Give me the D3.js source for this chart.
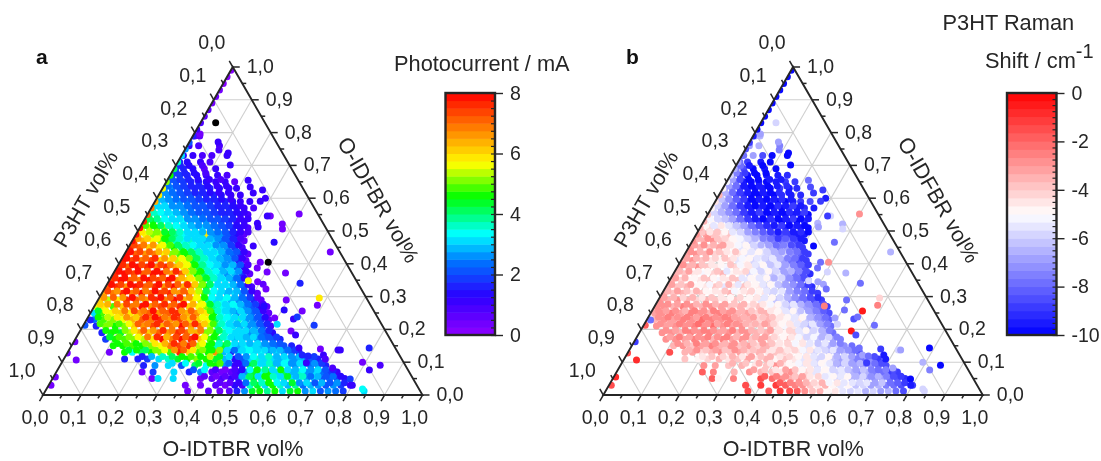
<!DOCTYPE html>
<html><head><meta charset="utf-8">
<script src="https://cdn.jsdelivr.net/npm/d3@7"></script>
<style>html,body{margin:0;padding:0;background:#fff}svg{display:block;font-family:"Liberation Sans",Arial,sans-serif;filter:blur(.4px)}</style>
</head><body><svg id="c" width="1101" height="461"></svg>
<script>
// Sample rows: O-IDFBR level of each row, then per-row O-IDTBR, photocurrent, Raman shift
const idfbrLevels=[.012,.03,.05,.07,.09,.11,.13,.15,.17,.19,.21,.23,.25,.27,.29,.31,.33,.35,.37,.39,.41,.43,.45,.47,.49,.51,.53,.55,.57,.59,.61,.63,.65,.67,.69,.71,.73,.76,.79,
.037,.057,.077,.097,.117,.137,.157,.177,.197,.217,.237,.257,.277,.297,.317,.337,.357,.377,.397,.417,.437,.457,.477,.497,.517,.537,.557,.577,.597,.617,.637,.657,.677,.70];
const idtbrRows=[
[.375,.43,.46,.485,.505,.525,.545,.565,.585,.605,.625,.645,.665,.685,.705,.725,.745,.765,.785,.84],
[.36,.40,.44,.465,.49,.51,.53,.55,.57,.59,.61,.63,.65,.67,.69,.71,.73,.75,.77,.80],
[.262,.278,.318,.39,.42,.445,.47,.49,.51,.53,.55,.57,.59,.61,.63,.65,.67,.69,.71,.73,.75,.77],
[.226,.255,.31,.35,.38,.41,.435,.46,.48,.50,.52,.54,.56,.58,.60,.62,.64,.66,.68,.70,.72,.74],
[.22,.25,.285,.32,.355,.385,.41,.435,.46,.48,.50,.52,.54,.56,.58,.60,.62,.64,.66,.68,.70],
[.16,.195,.22,.25,.275,.30,.325,.35,.375,.40,.425,.45,.47,.49,.51,.53,.55,.57,.59,.61,.63,.65,.67],
[.11,.15,.17,.195,.22,.245,.27,.295,.32,.345,.37,.39,.41,.43,.45,.47,.49,.51,.53,.55,.57,.59,.61],
[.11,.135,.16,.185,.21,.235,.26,.285,.31,.335,.36,.38,.40,.42,.44,.46,.48,.50,.52,.54,.56,.58],
[.08,.105,.13,.155,.18,.205,.23,.255,.28,.305,.33,.355,.38,.40,.42,.44,.46,.48,.50,.52,.54],
[.06,.085,.11,.135,.16,.185,.21,.235,.26,.285,.31,.335,.36,.385,.41,.43,.45,.47,.49,.51],
[.035,.06,.085,.11,.135,.16,.185,.21,.235,.26,.285,.31,.335,.355,.375,.395,.415,.435,.455,.475,.495],
[.02,.045,.07,.095,.12,.145,.17,.195,.22,.245,.27,.295,.32,.34,.36,.38,.40,.42,.44,.46,.48],
[.01,.03,.055,.08,.105,.13,.155,.18,.205,.23,.255,.28,.305,.325,.345,.365,.385,.405,.425,.445,.47],
[.005,.025,.05,.075,.10,.125,.15,.175,.20,.225,.25,.275,.295,.315,.335,.355,.375,.395,.415,.435,.455],
[.005,.025,.05,.075,.10,.125,.15,.175,.20,.225,.25,.27,.29,.31,.33,.35,.37,.39,.41,.43],
[.005,.03,.055,.08,.105,.13,.155,.18,.205,.23,.25,.27,.29,.31,.33,.35,.37,.39,.41],
[.005,.03,.055,.08,.105,.13,.155,.18,.205,.225,.245,.265,.285,.305,.325,.345,.365,.385],
[.005,.03,.055,.08,.105,.13,.155,.18,.205,.225,.245,.265,.285,.305,.325,.345,.365],
[.005,.03,.055,.08,.105,.13,.155,.18,.20,.22,.24,.26,.28,.30,.32,.34,.36],
[.005,.03,.055,.08,.105,.13,.155,.175,.195,.215,.235,.255,.275,.295,.315,.335],
[.005,.03,.055,.08,.105,.13,.15,.17,.19,.21,.23,.25,.27,.29,.31,.33],
[.005,.03,.055,.08,.105,.125,.145,.165,.185,.205,.225,.245,.265,.285,.305,.325],
[.005,.03,.055,.08,.10,.12,.14,.16,.18,.20,.22,.24,.26,.28,.30],
[.005,.03,.055,.075,.095,.115,.135,.155,.175,.195,.215,.235,.255,.275,.295],
[.005,.025,.045,.065,.085,.105,.125,.145,.165,.182,.205,.225,.245,.265,.285],
[.005,.025,.045,.065,.085,.105,.125,.145,.165,.185,.205,.225,.245,.265,.285],
[.005,.025,.045,.065,.085,.105,.125,.145,.165,.185,.205,.225,.245,.265],
[.005,.025,.045,.065,.085,.105,.125,.145,.165,.185,.205,.225,.245,.265],
[.005,.025,.045,.065,.085,.105,.125,.145,.165,.185,.205,.225,.245,.27],
[.005,.025,.045,.065,.085,.105,.125,.145,.165,.185,.205,.225,.25],
[.005,.025,.045,.065,.085,.105,.125,.145,.165,.19,.215],
[.005,.025,.045,.065,.085,.105,.125,.15,.175,.195],
[.005,.025,.045,.065,.085,.105,.13,.155,.18],
[.005,.025,.045,.07,.095,.125,.15],
[.005,.025,.05,.08,.11],
[.005,.025,.06,.085],
[.005,.03,.055,.08,.12],
[.005,.03,.085],
[.005,.018],
[.447,.474,.497,.516,.537,.558,.576,.598,.616,.638,.657,.676,.698,.716,.738,.757,.776],
[.397,.428,.452,.477,.496,.516,.538,.556,.578,.597,.616,.638,.656,.677,.696,.718,.736,.756],
[.358,.387,.416,.442,.467,.486,.507,.526,.547,.566,.588,.606,.627,.646,.668,.686,.706,.726],
[.292,.327,.362,.392,.418,.441,.466,.486,.507,.526,.548,.566,.587,.606,.628,.646,.667,.686],
[.203,.228,.257,.282,.308,.332,.357,.382,.407,.432,.456,.477,.496,.517,.536,.557,.577,.596,.617,.637,.656],
[.157,.178,.202,.228,.252,.278,.302,.327,.352,.377,.397,.417,.436,.457,.476,.497,.516,.537,.556,.577,.596],
[.118,.142,.167,.192,.217,.243,.267,.292,.317,.342,.366,.386,.407,.427,.447,.466,.487,.506,.527,.546],
[.087,.112,.138,.162,.187,.212,.237,.262,.287,.312,.337,.362,.386,.407,.426,.447,.466,.487,.506,.527],
[.067,.092,.118,.142,.167,.192,.218,.242,.267,.292,.317,.342,.366,.392,.416,.436,.456,.477,.497],
[.042,.067,.092,.118,.142,.167,.192,.218,.242,.267,.292,.317,.34,.362,.382,.402,.422,.442,.462,.482],
[.027,.052,.077,.102,.127,.152,.177,.202,.227,.252,.277,.302,.327,.347,.367,.387,.407,.427,.447,.467],
[.017,.037,.062,.087,.112,.137,.162,.187,.212,.237,.262,.287,.312,.332,.352,.372,.392,.412,.432,.452],
[.012,.032,.057,.082,.107,.132,.157,.182,.207,.232,.257,.282,.302,.322,.342,.362,.382,.402,.422,.442],
[.012,.037,.062,.087,.112,.137,.162,.187,.212,.237,.257,.277,.297,.317,.337,.357,.377,.397,.417],
[.012,.037,.062,.087,.112,.137,.162,.187,.212,.232,.252,.272,.292,.312,.332,.352,.372,.392],
[.012,.037,.062,.087,.112,.137,.162,.187,.212,.232,.252,.272,.292,.312,.332,.352,.372],
[.012,.037,.062,.087,.112,.137,.162,.187,.21,.232,.252,.272,.292,.312,.332,.352],
[.012,.037,.062,.087,.112,.137,.162,.187,.207,.227,.247,.267,.287,.307,.327,.347],
[.012,.037,.062,.087,.112,.137,.162,.182,.202,.222,.242,.262,.282,.302,.322,.342],
[.012,.037,.062,.087,.112,.135,.157,.177,.197,.217,.237,.257,.277,.297,.317],
[.012,.037,.062,.087,.107,.13,.152,.172,.192,.212,.232,.252,.272,.292,.312],
[.012,.037,.062,.087,.107,.127,.147,.167,.187,.207,.227,.247,.267,.287],
[.012,.037,.062,.082,.102,.122,.142,.162,.182,.202,.222,.242,.262,.282],
[.012,.032,.052,.072,.092,.112,.132,.152,.172,.192,.212,.232,.252,.272,.292],
[.012,.032,.052,.072,.092,.112,.132,.152,.172,.192,.212,.232,.252,.272],
[.012,.032,.052,.072,.092,.112,.132,.152,.172,.192,.212,.232,.252,.272],
[.012,.032,.052,.072,.092,.112,.132,.152,.172,.192,.212,.232,.252],
[.012,.032,.052,.072,.092,.112,.132,.152,.172,.192,.212,.232],
[.012,.032,.052,.072,.092,.112,.132,.152,.172,.196],
[.012,.032,.052,.072,.092,.112,.132,.155,.18],
[.012,.032,.052,.072,.092,.115,.14,.165],
[.012,.032,.055,.08,.11,.14],
[.012,.035,.06,.09],
[.012,.035,.07]];
const photocurrentRows=[
[.3,.5,.4,.6,1.5,2.5,4.3,4.6,3.9,4.5,3.0,4.4,4.6,2.6,3.0,2.2,2.6,2.3,1.9,3.2],
[.4,.3,.6,.4,1.4,.8,3.7,4.4,3.2,4.7,3.6,2.9,3.9,2.4,2.9,2.5,2.1,2.7,1.8,1.2],
[.3,3.1,3.2,.4,.5,.9,1.0,2.0,3.9,4.5,3.5,4.7,3.3,3.8,3.0,3.3,2.5,3.0,2.2,2.4,1.8,1.3],
[.4,1.8,3.1,1.7,2.5,.7,.4,.6,1.0,2.6,4.3,3.3,4.6,3.0,4.2,2.9,3.5,2.6,3.2,2.3,1.9,1.0],
[1.7,2.6,3.0,2.0,4.2,3.3,4.6,2.6,1.2,1.6,4.4,3.4,3.0,3.9,2.8,3.4,2.5,3.1,2.3,2.7,1.7],
[1.5,1.6,1.9,3.2,3.6,4.4,4.6,5.2,4.7,4.4,2.8,1.3,2.2,3.0,3.6,3.2,3.0,2.8,3.3,2.5,2.8,2.1,1.6],
[.4,4.6,3.4,4.0,4.7,5.0,4.8,7.5,6.2,4.8,4.5,6.7,2.9,1.6,3.0,3.4,3.0,3.3,2.7,3.0,2.6,2.2,1.5],
[4.6,4.7,4.8,4.5,5.2,5.6,6.9,7.3,7.6,5.4,4.6,3.7,4.4,3.3,2.9,3.4,3.1,2.9,2.6,2.4,2.2,1.7],
[1.9,4.6,4.8,5.0,5.3,5.8,7.8,6.8,7.9,7.6,6.0,4.9,4.0,3.3,2.8,3.1,2.9,2.5,2.3,2.0,1.5],
[1.7,4.7,4.4,5.4,6.4,6.2,7.2,6.6,7.7,7.0,6.4,5.0,4.5,3.6,3.2,3.0,2.6,2.9,2.2,1.3],
[1.6,5.0,4.7,5.2,6.1,6.6,7.3,6.4,6.9,7.8,6.6,6.9,5.4,3.8,3.4,3.2,2.8,2.5,2.7,2.1,.8],
[2.4,4.9,5.0,5.6,6.3,7.1,6.9,7.5,6.7,7.4,6.2,6.0,5.5,4.2,3.4,3.1,3.5,2.6,2.3,1.9,.7],
[3.2,4.8,5.6,6.0,5.9,6.6,7.2,6.5,7.0,7.6,6.3,6.7,5.8,4.6,3.3,3.0,2.7,3.0,2.4,2.0,.6],
[5.6,5.8,4.8,6.2,6.9,7.8,6.6,7.4,6.8,7.5,6.1,5.7,5.0,3.9,3.4,3.1,3.3,2.6,2.2,1.4,.5],
[6.2,5.4,5.9,7.7,7.2,6.6,7.6,6.9,7.9,6.4,5.8,5.4,3.9,3.0,3.4,2.9,2.7,2.3,1.6,.5],
[6.4,6.9,7.5,6.8,7.9,7.0,7.3,7.7,6.5,7.2,5.9,4.8,3.6,3.2,2.9,3.1,2.5,1.9,.6],
[7.0,7.6,6.6,7.9,7.1,7.5,6.7,7.8,6.4,6.9,5.2,4.6,3.4,3.0,3.3,2.6,2.0,.9],
[7.4,7.9,7.2,6.8,7.8,7.4,7.9,6.7,6.0,5.5,4.9,3.8,3.1,3.3,2.7,2.1,.8],
[7.6,7.9,7.4,7.0,7.8,7.9,6.6,7.1,5.4,4.7,4.1,3.5,3.0,2.7,2.9,1.8,.6],
[7.7,7.2,7.9,7.5,6.9,7.7,6.3,5.7,5.0,4.1,3.6,3.2,2.9,3.1,2.3,1.3],
[7.8,7.4,6.8,7.3,6.1,5.9,5.3,5.7,4.4,3.7,3.3,3.0,2.8,2.5,1.7,.5],
[7.9,7.1,6.6,6.9,5.6,5.2,4.9,4.5,4.0,3.5,3.1,3.3,2.7,2.4,1.5,.6],
[7.6,7.0,6.2,5.8,5.1,4.6,4.2,3.6,3.2,3.0,3.3,2.8,2.5,1.9,.8],
[7.2,6.4,5.6,5.0,4.3,3.7,3.3,3.6,3.0,2.8,3.1,2.4,2.1,1.5,.6],
[6.3,5.7,5.2,5.4,4.5,3.9,3.4,3.2,3.0,5.9,2.7,2.6,2.2,1.3,.7],
[5.5,5.3,4.7,5.0,3.8,3.4,3.0,2.8,3.1,2.6,2.4,2.1,1.6,1.3,.9],
[4.7,4.3,3.7,3.3,3.0,3.3,2.7,2.5,2.6,2.2,1.9,1.7,1.2,1.0],
[3.8,3.5,3.1,3.3,2.8,2.6,2.3,2.4,2.0,1.9,1.7,1.6,1.3,.9],
[3.3,3.0,3.2,2.7,2.5,2.4,2.1,2.0,1.8,1.7,1.5,1.3,1.2,.9],
[3.1,2.9,2.7,2.5,2.3,2.1,2.0,1.8,1.7,1.5,1.4,1.2,1.1],
[2.9,2.6,2.4,2.2,2.0,1.8,1.7,1.6,1.4,1.2,1.0],
[2.6,2.5,2.1,1.9,1.7,1.6,1.5,1.3,1.0,1.2],
[2.4,2.1,1.8,1.6,1.5,1.3,1.1,1.0,.7],
[2.2,1.8,1.6,1.4,1.2,1.0,.9],
[2.0,1.5,1.4,.6,1.0],
[1.7,1.4,1.1,.9],
[1.4,1.0,.9,.8,1.1],
[1.1,.8,.9],
[.6,.5],
[.5,.7,1.2,2.4,4.1,3.6,4.6,3.3,3.0,4.4,2.6,3.2,2.2,2.9,2.0,2.5,1.5],
[.5,.4,.7,.9,2.8,4.1,3.0,4.6,3.7,3.1,4.3,2.8,3.5,2.4,2.8,2.0,2.3,1.4],
[2.2,3.4,.8,.4,.8,1.3,3.4,4.6,3.8,3.2,4.6,3.1,2.8,3.3,2.5,3.0,2.1,1.5],
[3.1,3.3,4.4,4.6,4.8,2.4,1.0,2.3,4.0,3.1,3.6,2.9,3.3,2.7,3.0,2.4,2.6,1.9],
[1.7,2.9,3.5,4.2,4.6,4.9,4.7,5.4,4.3,3.0,2.1,2.7,3.3,3.1,3.5,2.9,3.1,2.6,2.9,2.3,1.9],
[4.4,4.6,4.2,5.2,5.6,6.6,7.2,5.8,5.1,4.6,5.0,3.2,2.4,3.2,3.4,3.1,3.2,2.8,2.9,2.4,1.8],
[4.7,4.9,4.6,5.0,5.8,6.4,7.7,6.9,7.2,5.6,4.7,3.5,4.1,3.0,3.2,2.9,3.0,2.7,2.3,2.0],
[4.4,4.8,5.2,5.6,6.8,7.5,6.4,7.3,7.0,7.8,5.6,4.7,3.7,3.1,3.0,2.8,3.0,2.4,2.2,1.8],
[4.5,4.6,5.0,5.8,7.0,6.5,7.7,6.9,7.4,6.3,6.8,5.2,4.2,3.4,3.0,3.2,2.8,2.4,1.6],
[4.8,5.2,4.9,5.7,7.0,6.8,7.7,7.1,6.5,7.2,7.5,6.2,4.8,3.6,3.1,2.9,3.2,2.6,2.2,1.6],
[4.6,5.3,5.8,6.6,6.1,7.5,7.8,6.9,7.6,6.6,7.0,5.7,4.7,3.7,3.3,3.0,3.2,2.5,2.2,1.4],
[4.4,5.5,6.1,6.8,7.4,6.9,7.8,7.0,7.5,6.6,7.0,6.0,4.9,3.7,3.1,2.9,3.1,2.5,2.2,1.1],
[6.0,6.3,6.9,7.4,6.8,7.9,7.2,7.6,7.1,7.8,6.3,5.5,4.4,3.5,3.1,3.3,2.8,2.4,1.8,.8],
[6.6,7.2,6.7,7.8,6.9,7.5,7.9,7.1,7.6,6.6,5.5,4.5,3.4,3.1,3.3,2.8,2.4,1.8,.7],
[7.3,6.7,7.8,7.2,6.9,7.8,7.4,6.6,7.0,6.2,5.4,4.2,3.4,3.0,2.8,2.9,2.2,1.2],
[7.8,7.3,7.9,7.5,7.0,7.9,7.3,7.0,7.6,6.2,5.0,4.2,3.2,3.1,2.9,2.3,1.2],
[7.6,7.9,7.0,7.8,7.4,7.0,7.8,6.4,5.9,5.0,4.4,3.6,3.0,2.8,2.4,1.3],
[7.9,7.5,7.8,7.2,7.9,6.8,7.5,6.2,5.2,4.6,3.7,3.3,2.9,3.1,2.6,1.2],
[7.5,7.9,7.4,7.8,7.3,6.9,6.0,5.6,4.7,3.8,3.3,3.1,2.7,2.9,2.1,.9],
[7.9,7.6,7.2,7.7,6.6,6.2,5.6,5.0,4.2,3.5,3.2,2.9,2.6,2.2,1.2],
[7.9,7.3,7.0,6.4,6.0,5.2,4.7,4.2,3.7,3.2,3.0,2.9,2.4,2.0,1.0],
[7.4,6.8,6.5,5.5,4.8,4.2,3.7,3.4,3.0,3.2,2.7,2.5,1.9,1.0],
[6.7,6.0,5.5,4.7,4.0,3.5,3.2,3.0,3.1,2.8,2.5,2.2,1.7,.9],
[5.8,5.4,5.0,4.4,4.1,3.6,3.1,3.0,2.8,2.7,2.4,2.0,1.7,1.2,.8],
[4.9,4.6,4.2,3.6,3.3,3.0,2.9,2.7,2.5,2.4,2.0,1.8,1.3,1.0],
[4.1,3.9,3.4,3.1,3.0,2.7,2.6,2.3,2.2,2.0,1.8,1.5,1.2,1.1],
[3.6,3.3,3.0,2.8,2.6,2.3,2.2,2.1,1.9,1.7,1.5,1.3,1.0],
[3.2,3.0,2.7,2.5,2.3,2.1,2.0,1.8,1.7,1.5,1.3,1.0],
[2.9,2.7,2.4,2.2,2.0,1.9,1.7,1.5,1.3,1.0],
[2.7,2.3,2.1,1.9,1.7,1.6,1.4,1.2,1.1],
[2.4,2.2,1.9,1.6,1.5,1.3,1.0,1.0],
[2.1,1.8,1.6,1.4,1.1,.9],
[1.9,1.6,1.4,.9],
[1.5,1.3,.9]];
const ramanRows=[
[-1.5,-2,-1.2,-1.5,-2,-3,-4,-3.5,-5,-4.5,-5.5,-6,-5.5,-6.5,-6,-7,-6.5,-8,-8.5,-6],
[-1.5,-1.2,-1.3,-2,-2.5,-3,-3.8,-4.5,-3.5,-5,-5.5,-4.8,-6.2,-6,-7,-6.6,-7.4,-8,-8.6,-9],
[-2,-5,-2.5,-1.5,-2.2,-2.8,-3.5,-3,-4,-5,-4.4,-5.2,-5.8,-5,-6.4,-6,-6.8,-7.2,-7,-7.8,-8.6,-9.2],
[-2,-2.5,-3.5,-2.8,-3.5,-4,-4.5,-3,-5,-4.2,-5.6,-4.8,-5.2,-6,-5.6,-6.6,-7.2,-6.5,-7.5,-7.9,-8.8,-9],
[-3,-3.3,-4,-3.5,-4.6,-3.8,-3,-4.4,-5,-5.4,-4.6,-5.8,-5.2,-6.2,-6.8,-5.8,-7,-7.6,-7.2,-8.2,-8.6],
[-4,-4.8,-4.2,-3.5,-4.5,-3.8,-3.2,-4.4,-3.6,-4.8,-4,-4.4,-5.4,-4.6,-5.8,-5,-6.2,-6.8,-6,-7.4,-8,-7.2,-8.8],
[-1.5,-3.6,-3.2,-4.2,-3.6,-3,-3.8,-3.3,-4.2,-3.5,-4.6,-3.9,-4.2,-5,-4.4,-5.4,-5.8,-5,-6.3,-7,-6.4,-7.6,-8.4],
[-3.4,-3,-3.8,-3.2,-2.6,-3.4,-3,-3.7,-3.2,-4.2,-3.6,-4.4,-5,-4.2,-4.8,-5.6,-5,-6,-6.6,-6,-7.2,-8],
[-3,-2.8,-3.3,-2.6,-2.9,-3.4,-2.4,-3.2,-2.8,-3.8,-3.3,-3.9,-4.6,-4,-5,-4.4,-5.6,-6.2,-5.4,-7,-7.6],
[-3,-2.9,-3.4,-2.5,-3,-2.4,-3.1,-2.7,-3.5,-3,-3.6,-3.4,-4.4,-5,-4.2,-5.4,-6,-5.2,-6.6,-7.8],
[-3,-3.2,-2.7,-3,-2.5,-2.8,-2.2,-2.9,-3.3,-3,-3.7,-4,-3.6,-4.6,-5.2,-4.4,-5.8,-6.4,-5.6,-7.2,-8],
[-3.4,-2.8,-3.1,-2.4,-2.9,-2.2,-2.6,-3,-2.5,-3.2,-3.6,-4.2,-3.6,-4.4,-5,-5.4,-4.6,-6.2,-6.8,-7.4,-8.2],
[-3.2,-3,-2.6,-3.2,-2.4,-2.9,-3.4,-2.6,-3,-3.6,-3.2,-4.2,-3.5,-5,-4.4,-5.6,-6,-5.2,-6.8,-7.6,-8.4],
[-2.8,-3,-3.4,-2.5,-3,-3.4,-2.7,-3.2,-3.8,-3.4,-4.4,-3.9,-5,-4.4,-5.6,-6.2,-5.4,-6.8,-7.2,-7.8,-8.8],
[-3,-3.4,-2.9,-3.6,-4.2,-3.4,-3.9,-4.6,-4,-5,-4.4,-5.6,-5,-6.2,-5.6,-7,-7.4,-8,-8.4,-9],
[-3.2,-3.8,-3.4,-4.4,-3.8,-5,-4.4,-3.6,-4.8,-4.1,-5.2,-4.6,-5.8,-5.2,-6.4,-7,-7.6,-8.2,-9],
[-3.4,-4,-3.4,-5,-4.4,-3.8,-5.4,-4.6,-4,-5,-4.4,-5.8,-5.2,-6.4,-7,-7.8,-8.4,-9.2],
[-3.6,-4.2,-5,-4.4,-3.8,-5.2,-4.6,-4,-5.6,-4.8,-5.4,-6,-5.4,-6.8,-7.4,-8.2,-9],
[-3.4,-3.8,-4.6,-5.2,-4.2,-3.6,-5,-4.4,-5.8,-5,-5.4,-6.2,-5.6,-7,-7.8,-8.4,-9.2],
[-3.2,-3.6,-3,-3.8,-4.6,-5.2,-4.2,-5,-4.4,-5.8,-5.2,-6,-6.8,-6.2,-7.6,-8.6],
[-3.4,-3,-3.8,-4.4,-5,-4.2,-5.4,-4.8,-5.8,-5.2,-6.2,-5.6,-7,-7.8,-8.4,-9],
[-3.2,-3,-3.4,-4.2,-3.8,-5,-4.4,-5.6,-4.8,-5.4,-6,-6.6,-6,-7.2,-8.2,-9],
[-3,-3.4,-3.8,-3.2,-4.4,-5,-5.4,-4.8,-6,-5.4,-6.6,-7.4,-7,-8,-8.8],
[-3.2,-3.6,-3,-3.8,-4.4,-5,-5.4,-6.2,-5.6,-6.8,-7.4,-8,-7.6,-8.6,-9.4],
[-3.6,-3.2,-4,-4.6,-3.8,-5.2,-5.8,-6.4,-7,-7.6,-8.2,-8.6,-9,-9.4,-9.6],
[-4.8,-4.2,-5.4,-5,-5.8,-6.6,-7.2,-8,-8.6,-9,-8.4,-9.4,-9,-9.6,-9.8],
[-5.4,-5,-5.8,-6.4,-7.4,-8,-8.8,-9.2,-9.6,-9,-9.8,-9.4,-9.8,-9.2],
[-5.6,-6,-6.6,-7.6,-8.4,-9.2,-9.6,-9,-9.8,-9.4,-10,-9.6,-9,-9.8],
[-5.8,-6.4,-7.4,-8.2,-9,-9.6,-9.2,-10,-9.4,-9.8,-9,-9.6,-9.2,-9.6],
[-5.6,-6.4,-7.6,-8.6,-9.4,-10,-9.6,-9.2,-10,-9.8,-9.4,-9,-8.6],
[-6,-7,-8.4,-9.2,-9.8,-10,-9.4,-9.8,-9.2,-9.6,-9.2],
[-6.4,-7.4,-8.8,-9.6,-10,-9.6,-9.8,-9,-9.6,-9.2],
[-6.6,-8,-9.4,-10,-9.6,-10,-9.4,-9,-8.8],
[-7,-8.6,-9.8,-10,-9.4,-9.6,-9.2],
[-7.4,-8.6,-10,-9.6,-9.8],
[-8,-9,-9.6,-10],
[-8,-6.8,-8.6,-10,-10],
[-7,-6.5,-7.4],
[-7,-6.6],
[-1.8,-2.4,-3,-3.6,-4.2,-3.4,-5.2,-4.6,-5.6,-5.4,-6,-5.4,-7,-6.2,-7.8,-8.2,-9],
[-1.8,-2.6,-3,-3.8,-3.2,-4.6,-4.2,-5.6,-4.8,-5.4,-5,-6.6,-5.8,-7.2,-6.6,-7.6,-8.4,-9],
[-3.2,-3.8,-4.4,-3.2,-3.8,-5,-4.4,-5.4,-5,-6,-5.4,-6.2,-6.8,-6.2,-7.4,-8,-7.6,-8.6],
[-3.6,-4,-3.4,-4.4,-3.6,-4.8,-5.2,-4.6,-5.4,-5,-5.6,-6.4,-5.8,-7,-6.4,-7.4,-8,-8.4],
[-4.6,-3.8,-4.2,-3.4,-4.4,-3.2,-4,-3.4,-4.6,-4.2,-5,-4.6,-5.4,-5.8,-5,-6.4,-6,-7,-7.6,-7,-8.4],
[-3.4,-3,-3.8,-3.2,-3.8,-3,-3.4,-3.8,-3.4,-4.4,-4,-4.6,-4.2,-5.2,-4.6,-5.6,-6,-5.4,-6.8,-7.2,-8],
[-3,-3.4,-2.6,-3.2,-2.7,-3.6,-2.8,-3.4,-3.8,-3.2,-4,-4.6,-4.2,-5.2,-4.6,-5.4,-6.2,-5.6,-7,-7.4],
[-3.2,-2.6,-3.1,-2.8,-2.4,-3,-2.6,-3.4,-2.9,-3.6,-3.2,-4.2,-4.8,-4.4,-5.2,-5.8,-5.2,-6.6,-6,-7.4],
[-3,-3.3,-2.6,-3,-2.4,-2.8,-3.2,-2.5,-3,-3.4,-3.8,-3.2,-4.6,-4.2,-5.4,-4.8,-5.8,-6.4,-7.4],
[-2.8,-3.2,-2.5,-2.9,-2.2,-2.7,-3.2,-2.5,-2.9,-3.4,-3.6,-3.2,-4.2,-4.8,-4.4,-5.4,-6,-5.4,-6.8,-7.6],
[-3,-2.6,-3,-2.5,-3.2,-2.6,-2.9,-2.4,-3.1,-3.6,-3.3,-4,-3.8,-4.6,-5,-5.6,-5,-6.4,-7.2,-8],
[-2.8,-3.2,-2.7,-3.4,-2.6,-3,-2.6,-3.3,-2.8,-3.4,-3.8,-3.4,-4.4,-4.8,-5.4,-5,-6.2,-7,-7.4,-8.2],
[-3,-2.7,-3.2,-2.8,-3.4,-3,-3.6,-3.2,-4,-3.6,-4.2,-4.6,-5.2,-4.8,-5.8,-5.4,-6.6,-7.2,-7.8,-8.6],
[-3.2,-3.6,-4.2,-3.4,-4.6,-3.8,-4.4,-5,-4.2,-4.8,-4.4,-5.4,-5,-6,-6.6,-7.2,-7.8,-8.4,-9.2],
[-3.4,-3.2,-4,-3.6,-5,-4.4,-3.8,-5.2,-4.6,-4.2,-5,-5.4,-6,-5.6,-6.8,-7.4,-8,-8.8],
[-3.2,-3.8,-3.2,-4.8,-5.2,-4.2,-3.6,-5.6,-4.4,-4.8,-5.6,-5,-6.2,-6.8,-7.2,-8,-8.8],
[-3.2,-3.6,-4.8,-3.8,-5,-4.4,-3.8,-5.6,-4.8,-5.4,-5,-6.4,-5.8,-7.2,-8,-8.6],
[-3.6,-3.2,-4.4,-5,-3.8,-5.4,-4.6,-4.2,-5.2,-5.8,-5,-6,-6.8,-6.4,-7.4,-8.4],
[-3,-3.4,-3.8,-4.4,-5,-4,-5.2,-4.6,-5.6,-5,-6.2,-5.6,-7,-7.6,-8.2,-9],
[-3.2,-3.6,-3.4,-4.2,-3.8,-4.6,-5.2,-4.8,-5.6,-6,-5.4,-6.6,-7.4,-8,-8.8],
[-3,-3.4,-3,-3.8,-4.4,-4,-5,-5.4,-5,-5.8,-6.4,-7,-7.6,-8,-8.8],
[-3.2,-3,-3.6,-3.2,-4.6,-5.2,-4.8,-5.8,-6.4,-7,-7.8,-7.4,-8.4,-9],
[-3.4,-3,-3.8,-4.2,-4.8,-5.2,-5.8,-6.6,-7.4,-8,-8.8,-8.2,-9,-9.4],
[-4,-4.6,-3.8,-5,-5.4,-6,-6.8,-7.6,-8.2,-9,-9.4,-8.8,-9.6,-9.2,-10],
[-5,-5.6,-4.6,-5.4,-6.2,-7,-7.8,-8.6,-9.2,-9.6,-9,-9.8,-9.4,-9.8],
[-5.2,-5.8,-6.2,-7,-8,-8.8,-9.4,-9.8,-9.2,-10,-9.6,-9,-9.8,-9.4],
[-5.8,-6.4,-7.2,-8,-8.8,-9.6,-9,-10,-9.4,-9.8,-9.2,-9.6,-9],
[-6,-7,-8,-8.8,-9.6,-10,-9.4,-9.8,-9.2,-9.6,-9,-9.4],
[-6.2,-7.2,-8.2,-9,-9.8,-9.4,-10,-9.6,-9.2,-9.4],
[-6.6,-7.8,-9,-9.6,-10,-9.4,-9.8,-9.2,-9.6],
[-6.8,-8,-9.4,-10,-9.6,-10,-9.4,-9.2],
[-7,-8.6,-9.8,-10,-9.6,-9.4],
[-7.4,-8.8,-10,-9.8],
[-8,-9.4,-9.8]];
// Scattered samples outside the dense cloud
const sparseIdtbr=[.399,.539,.376,.37,.378,.326,.318,.327,.391,.37,.371,.403,.453,.507,.367,.393,.411,.426,.58,.586,.496,.447,.506,.555,.544,.551,.493,.608,.509,.556,.574,.709,.715,.661,.678,.689,.788,.792,.843,.822,.603,.622,.639,.645,.722,.785,.833,.795,.04,.016,.076,.09,.119,.143,.213,.229,.266,.246,.286,.277,.303,.311,.034,0,.003,.006,.005,.01,.004];
const sparseIdfbr=[.552,.436,.466,.521,.506,.546,.546,.454,.405,.405,.387,.375,.372,.341,.348,.345,.338,.323,.296,.274,.29,.271,.259,.256,.232,.238,.235,.213,.216,.195,.183,.137,.137,.14,.122,.11,.143,.1,.091,.076,.143,.122,.119,.098,.082,.049,.018,.03,.83,.796,.771,.747,.738,.701,.655,.634,.625,.616,.6,.591,.524,.512,.107,.128,.162,.03,.055,.229,.213];
const sparsePhotocurrent=[.3,.3,1.3,.3,.3,.3,1.0,1.2,9,.4,.3,.3,.3,1.6,5.5,.4,.5,.4,5.8,.4,.3,1.4,1.4,.4,1.1,1.8,.4,1.8,3.2,.4,1.2,1.1,1.0,.4,1.1,.8,1.6,.3,.9,1.0,1.1,1.6,1.6,1.1,.9,1.9,3.4,1.2,9,.3,1.0,.8,1.0,1.1,1.0,1.1,1.2,1.1,1.1,1.0,1.1,1.2,.3,.3,.3,.3,.3,1.6,2.0];
const sparseRaman=[-3,-6.5,-8,-6.5,-6,-6,-9,-10,-3,-8,-8,-6,-6.5,-8,-6,-7,-7,-8,-4.3,-2.5,-8,-2.5,-8,-.5,-8.5,-8,-7,-8,-6,-.5,-8.5,-6,-7,-9,-9.5,-9.5,-10,-6.5,-10,-7.5,-8,-7,-8,-9,-7,-10,-6,-9.5,-6,-7,-7,-7.5,-10,-10,-8,-8.5,-9,-9,-9.5,-9,-6.5,-7,-1,-1.5,-9,-1.5,-1,-8,-2];
// Thin line of samples that contain no O-IDTBR (they run along the left edge)
const edgeIdfbr=[.99,.97,.95,.93,.91,.89,.87,.85,.83,.81,.79,.77,.75,.73,.71,.69,.67,.65,.63,.61,.59,.57,.55,.53,.51,.49,.47];
const edgePhotocurrent=[.2,.2,.2,.3,.3,.4,.5,.6,.8,1.0,1.5,2.1,2.7,3.2,3.6,4.2,4.6,5.0,5.5,5.9,6.3,6.8,7.2,7.6,7.8,8,8];
const edgeRaman=[-10,-10,-10,-10,-10,-10,-10,-10,-10,-10,-9.5,-9,-8.5,-8,-7,-6.5,-6,-5.2,-4.8,-3.5,-4.5,-5,-4,-3.5,-3.5,-3,-3];
const tickFractions=[0,.1,.2,.3,.4,.5,.6,.7,.8,.9,1];
const photoTicks=[0,2,4,6,8];
const ramanTicks=[-10,-8,-6,-4,-2,0];

const samples=[];
idfbrLevels.forEach((c,r)=>idtbrRows[r].forEach((a,i)=>{
  if(photocurrentRows[r][i]!=null&&ramanRows[r][i]!=null)samples.push({a,c,p:photocurrentRows[r][i],s:ramanRows[r][i]});
}));
sparseIdtbr.forEach((a,i)=>samples.push({a,c:sparseIdfbr[i],p:sparsePhotocurrent[i],s:sparseRaman[i]}));
edgeIdfbr.forEach((c,i)=>samples.push({a:0,c,p:edgePhotocurrent[i],s:edgeRaman[i]}));

const svg=d3.select('#c');
const INK='#262626';
const rainbow=d3.scaleLinear().domain([0,1.3,2.4,3.35,4.57,5.67,8]).range(['#8f00ff','#2a00ff','#0070ff','#00ffff','#00ff00','#ffff00','#ff0000']);
const bwr=d3.scaleLinear().domain([-10,-5,0]).range(['#0000ff','#ffffff','#ff0000']);
const bands=(lin,dom,n)=>d3.scaleQuantize().domain(dom).range(d3.range(n).map(i=>lin(dom[0]+(i+.5)/n*(dom[1]-dom[0]))));
const photoColor=bands(rainbow,[0,8],32), ramanColor=bands(bwr,[-10,0],30);
const fmt=v=>d3.format('.1f')(v).replace('.',',');
const W=379.5,H=328,BOTTOM=395;

function panel(id,left,accessor,color,letter,letterX){
  const g=svg.append('g').attr('class','panel-'+id);
  const sx=d3.scaleLinear().domain([0,1]).range([left,left+W]);
  const sy=d3.scaleLinear().domain([0,1]).range([BOTTOM,BOTTOM-H]);
  const px=(a,c)=>sx(a+c/2), py=c=>sy(c);
  const grid=g.append('g').attr('stroke','#cfcfcf').attr('stroke-width',1.1);
  const seg=(a1,c1,a2,c2)=>grid.append('line').attr('x1',px(a1,c1)).attr('y1',py(c1)).attr('x2',px(a2,c2)).attr('y2',py(c2));
  tickFractions.slice(1,10).forEach(t=>{
    seg(0,t,t===.8?.1:1-t,t);
    seg(t,0,t,1-t);
    seg(1-t,0,0,1-t);
  });
  const clipId='clip-'+id;
  g.append('clipPath').attr('id',clipId).append('path')
    .attr('d',`M${px(0,0)},${py(0)}L${px(1,0)},${py(0)}L${px(0,1)},${py(1)}Z`);
  g.append('g').attr('clip-path',`url(#${clipId})`).selectAll('circle').data(samples).join('circle')
    .attr('cx',d=>px(d.a,d.c)).attr('cy',d=>py(d.c)).attr('r',3.5)
    .attr('fill',d=>color(accessor(d)));
  g.append('path').attr('d',`M${px(0,0)},${py(0)}L${px(1,0)},${py(0)}L${px(0,1)},${py(1)}Z`)
    .attr('fill','none').attr('stroke',INK).attr('stroke-width',1.9).attr('stroke-linejoin','miter');
  const ticks=g.append('g').attr('stroke',INK).attr('stroke-width',1.5);
  const t60=[.5,.866];
  d3.range(0,21).forEach(k=>{
    const t=k/20, major=k%2===0, L=major?7:4;
    ticks.append('line').attr('x1',px(t,0)).attr('y1',py(0)).attr('x2',px(t,0)-t60[0]*L).attr('y2',py(0)+t60[1]*L);
    ticks.append('line').attr('x1',px(1-t,t)).attr('y1',py(t)).attr('x2',px(1-t,t)+L).attr('y2',py(t));
    ticks.append('line').attr('x1',px(0,1-t)).attr('y1',py(1-t)).attr('x2',px(0,1-t)-t60[0]*L).attr('y2',py(1-t)-t60[1]*L);
  });
  const lab=g.append('g').attr('fill',INK).attr('font-size',19.5);
  tickFractions.forEach(t=>{
    lab.append('text').attr('x',px(t,0)-8).attr('y',424).attr('text-anchor','middle').text(fmt(t));
    lab.append('text').attr('x',px(1-t,t)+14).attr('y',py(t)+6).text(fmt(t));
    lab.append('text').attr('x',px(0,1-t)-21).attr('y',py(1-t)-24.5+6.5).attr('text-anchor','middle').text(fmt(t));
  });
  const ttl=g.append('g').attr('fill',INK).attr('font-size',21.5).attr('text-anchor','middle');
  ttl.append('text').attr('x',left+190).attr('y',456).text('O-IDTBR vol%');
  ttl.append('text').attr('transform',`translate(${left+43},199) rotate(-60)`).attr('y',7).text('P3HT vol%');
  ttl.append('text').attr('transform',`translate(${left+335},200) rotate(60)`).attr('y',7).text('O-IDFBR vol%');
  g.append('text').attr('x',letterX).attr('y',64).attr('font-size',21).attr('font-weight','bold').attr('fill','#111').text(letter);
}

function colorbar(id,left,domain,color,n,ticks,minorStep){
  const g=svg.append('g').attr('class','bar-'+id);
  const y=d3.scaleLinear().domain(domain).range([335,93]);
  const bw=49.5;
  const step=(domain[1]-domain[0])/n;
  g.selectAll('rect').data(d3.range(n)).join('rect')
    .attr('x',left).attr('width',bw)
    .attr('y',i=>y(domain[0]+(i+1)*step)).attr('height',i=>y(domain[0]+i*step)-y(domain[0]+(i+1)*step)+.5)
    .attr('fill',i=>color(domain[0]+(i+.5)*step));
  g.append('rect').attr('x',left).attr('y',93).attr('width',bw).attr('height',242).attr('fill','none').attr('stroke',INK).attr('stroke-width',2.4);
  const minor=d3.axisRight(y).tickValues(d3.range(domain[0],domain[1]+1e-6,minorStep)).tickSize(-4).tickFormat('');
  g.append('g').attr('transform',`translate(${left+bw},0)`).call(minor).call(s=>s.select('.domain').remove()).selectAll('line').attr('stroke',INK).attr('stroke-width',1.2);
  const major=d3.axisRight(y).tickValues(ticks).tickSize(8).tickPadding(7);
  g.append('g').attr('transform',`translate(${left+bw},0)`).call(major).call(s=>s.select('.domain').remove())
    .call(s=>s.selectAll('line').attr('stroke',INK).attr('stroke-width',1.4))
    .call(s=>s.selectAll('text').attr('fill',INK).attr('font-size',19.5).attr('font-family','"Liberation Sans",Arial,sans-serif').text(d=>String(d)));
}

panel('a',43,d=>d.p,v=>v>8?'#000000':photoColor(v),'a',36);
panel('b',603.3,d=>d.s,ramanColor,'b',626);
colorbar('a',445.5,[0,8],photoColor,32,photoTicks,.25);
colorbar('b',1007,[-10,0],ramanColor,30,ramanTicks,.25);

const T=svg.append('g').attr('fill',INK).attr('font-size',21.8);
T.append('text').attr('x',394).attr('y',71).text('Photocurrent / mA');
T.append('text').attr('x',942.5).attr('y',30).text('P3HT Raman');
const sh=T.append('text').attr('x',985).attr('y',68);
sh.append('tspan').text('Shift / cm');
sh.append('tspan').attr('dy',-10).attr('font-size',20).text('-1');
</script></body></html>
